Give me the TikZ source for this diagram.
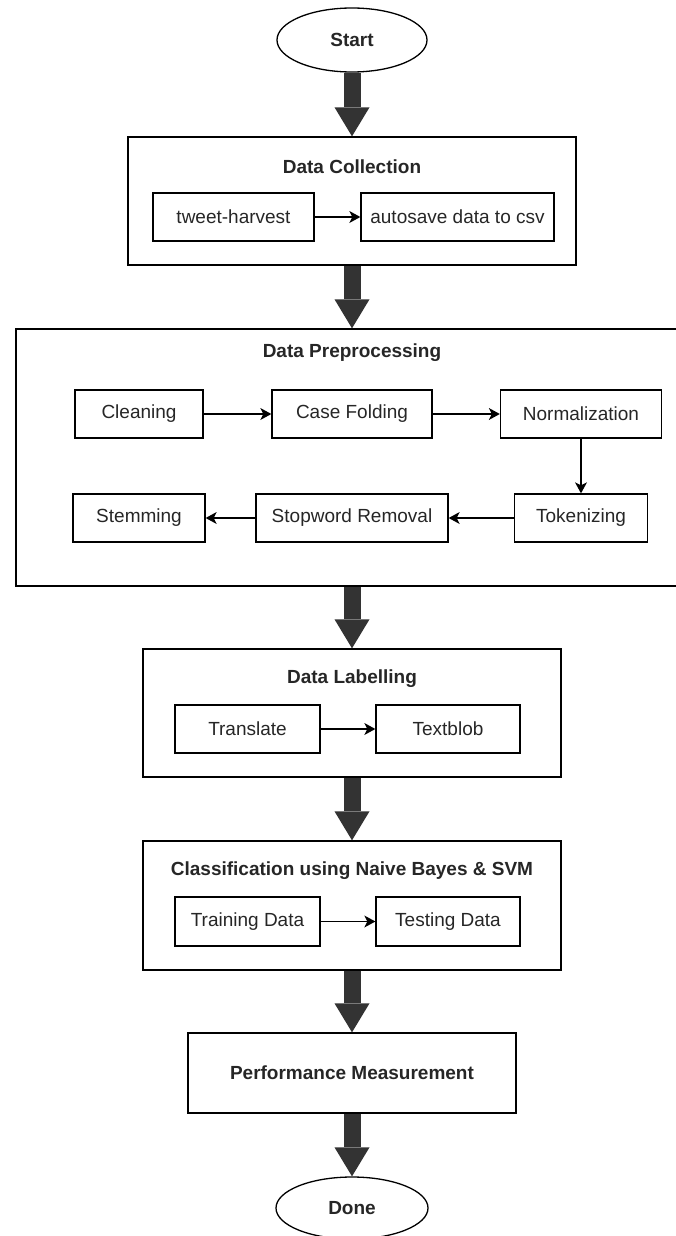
\documentclass[tikz,border=0pt]{standalone}
\usepackage{fontspec}
\setmainfont{Liberation Sans}
\usetikzlibrary{shapes.geometric,arrows.meta}
\definecolor{flowgray}{HTML}{333333}

\begin{document}
\begin{tikzpicture}[x=1pt,y=-1pt,line width=1.3pt,text=black!85,font=\fontsize{19}{23}\selectfont]
		\tikzstyle{terminal} = [ellipse,draw,inner sep=0pt,minimum width=150pt,minimum height=64pt,font=\fontsize{19}{23}\selectfont\bfseries]
		\tikzstyle{stage} = [rectangle,draw,inner sep=0pt]
		\tikzstyle{task}  = [rectangle,draw,inner sep=0pt,minimum height=48pt]
		\tikzstyle{title} = [font=\fontsize{19}{23}\selectfont\bfseries]
		\tikzstyle{flow}  = [line width=17pt,draw=flowgray,-{Triangle[width=35pt,length=29pt,line width=0pt]}]
		\tikzstyle{link}  = [-{Stealth[length=11pt,width=12pt,inset=3pt,line width=0pt]}]
		
		\useasboundingbox (0,0) rectangle (676,1236);
		
		\node[terminal] (start) at (352,40) {Start};
		
		% data collection
		\node[stage,minimum width=448pt,minimum height=128pt] (collect) at (352,201) {};
		\node[title] (collecttitle) at (352,167) {Data Collection};
		\node[task,minimum width=161pt] (harvest) at (233.5,217) {tweet-harvest};
		\node[task,minimum width=193pt] (autosave) at (457.5,217) {autosave data to csv};
		
		% preprocessing
		\node[stage,minimum width=672pt,minimum height=257pt] (prep) at (352,457.5) {};
		\node[title] (preptitle) at (352,353) {Data Preprocessing};
		\node[task,minimum width=128pt] (clean) at (139,414) {Cleaning};
		\node[task,minimum width=160pt] (fold) at (352,414) {Case Folding};
		\node[task,minimum width=161pt] (norm) at (581,414) {Normalization};
		\node[task,minimum width=132pt] (stem) at (139,518) {Stemming};
		\node[task,minimum width=192pt] (stop) at (352,518) {Stopword Removal};
		\node[task,minimum width=133pt] (token) at (581,518) {Tokenizing};
		
		% labelling
		\node[stage,minimum width=418pt,minimum height=128pt] (label) at (352,713) {};
		\node[title] (labeltitle) at (352,679) {Data Labelling};
		\node[task,minimum width=145pt] (translate) at (247.5,729) {Translate};
		\node[task,minimum width=144pt] (textblob) at (448,729) {Textblob};
		
		% classification
		\node[stage,minimum width=418pt,minimum height=129pt] (classify) at (352,905.5) {};
		\node[title] (classifytitle) at (352,871) {Classification using Naive Bayes \& SVM};
		\node[task,minimum width=145pt,minimum height=49pt] (train) at (247.5,921.5) {Training Data};
		\node[task,minimum width=144pt,minimum height=49pt] (test) at (448,921.5) {Testing Data};
		
		\node[stage,title,minimum width=328pt,minimum height=80pt] (measure) at (352,1073) {Performance Measurement};
		\node[terminal,minimum width=152pt,minimum height=62pt] (done) at (352,1208) {Done};
		
		\path (start) edge[flow] (collect);
		\path (collect) edge[flow] (prep);
		\path (prep) edge[flow] (label);
		\path (label) edge[flow] (classify);
		\path (classify) edge[flow] (measure);
		\path (measure) edge[flow] (done);
		
		\path (harvest) edge[link] (autosave);
		
		\path (clean) edge[link] (fold);
		\path (fold) edge[link] (norm);
		\path (norm) edge[link] (token);
		\path (token) edge[link] (stop);
		\path (stop) edge[link] (stem);
		
		\path (translate) edge[link] (textblob);
		\path (train) edge[link] (test);
	\end{tikzpicture}
\end{document}
